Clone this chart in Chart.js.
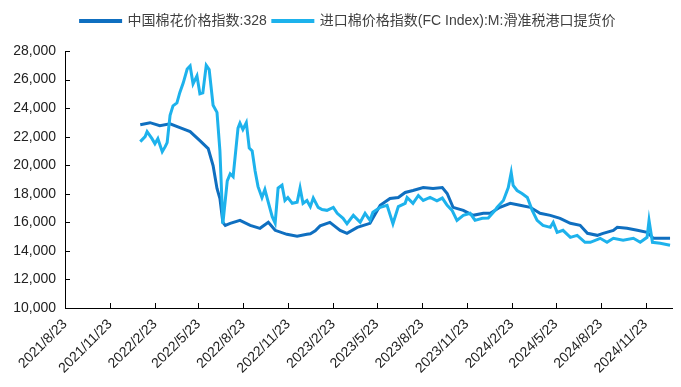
<!DOCTYPE html>
<html>
<head>
<meta charset="utf-8">
<script src="https://cdn.jsdelivr.net/npm/chart.js@4.4.1/dist/chart.umd.min.js"></script>
<style>
  html, body { margin: 0; padding: 0; background: #fff; }
</style>
</head>
<body>
<canvas id="grafico" width="681" height="387"></canvas>
<script>
// rótulos do eixo x (a cada 3 meses)
const tickLabels = ['2021/8/23', '2021/11/23', '2022/2/23', '2022/5/23', '2022/8/23', '2022/11/23', '2023/2/23',
  '2023/5/23', '2023/8/23', '2023/11/23', '2024/2/23', '2024/5/23', '2024/8/23', '2024/11/23'];
const yTicks = [10000, 12000, 14000, 16000, 18000, 20000, 22000, 24000, 26000, 28000];

// 中国棉花价格指数:328
const darkDates = ['2022-01-24', '2022-02-13', '2022-03-05', '2022-03-26', '2022-04-15', '2022-05-06', '2022-05-26',
  '2022-06-12', '2022-06-22', '2022-06-30', '2022-07-06', '2022-07-12', '2022-07-17', '2022-07-27', '2022-08-16',
  '2022-09-06', '2022-09-26', '2022-10-13', '2022-10-27', '2022-11-20', '2022-12-11', '2022-12-31', '2023-01-07',
  '2023-01-17', '2023-01-27', '2023-02-16', '2023-03-09', '2023-03-23', '2023-04-13', '2023-05-09', '2023-05-30',
  '2023-06-19', '2023-07-06', '2023-07-20', '2023-08-05', '2023-08-26', '2023-09-15', '2023-10-04', '2023-10-14',
  '2023-10-26', '2023-11-16', '2023-12-06', '2023-12-27', '2024-01-10', '2024-01-30', '2024-02-20', '2024-03-11',
  '2024-04-01', '2024-04-21', '2024-05-12', '2024-06-01', '2024-06-22', '2024-07-12', '2024-07-27', '2024-08-16',
  '2024-08-28', '2024-09-18', '2024-09-26', '2024-10-16', '2024-11-06', '2024-11-26', '2024-12-09', '2024-12-29',
  '2025-01-12'];
const darkValues = [22840, 22980, 22770, 22900, 22630, 22350, 21720,
  21160, 19980, 18370, 17670, 16000, 15790, 15930, 16140,
  15790, 15580, 16000, 15440, 15160, 15020, 15160, 15200,
  15400, 15750, 16000, 15440, 15230, 15650, 15930, 17190,
  17670, 17740, 18090, 18230, 18440, 18370, 18440, 18020,
  17050, 16840, 16490, 16630, 16630, 17050, 17330, 17190,
  17050, 16630, 16490, 16280, 15930, 15790, 15230, 15090,
  15230, 15440, 15650, 15580, 15440, 15300, 14880, 14880,
  14880];

// 进口棉价格指数(FC Index):M:滑准税港口提货价
const lightDates = ['2022-01-24', '2022-02-03', '2022-02-07', '2022-02-17', '2022-02-23', '2022-03-01', '2022-03-10',
  '2022-03-16', '2022-03-20', '2022-03-26', '2022-04-01', '2022-04-09', '2022-04-15', '2022-04-22', '2022-04-30',
  '2022-05-06', '2022-05-12', '2022-05-20', '2022-05-26', '2022-06-01', '2022-06-08', '2022-06-14', '2022-06-22',
  '2022-06-30', '2022-07-06', '2022-07-12', '2022-07-21', '2022-07-27', '2022-08-02', '2022-08-12', '2022-08-16',
  '2022-08-22', '2022-08-29', '2022-09-04', '2022-09-10', '2022-09-16', '2022-09-22', '2022-09-30', '2022-10-06',
  '2022-10-13', '2022-10-21', '2022-10-27', '2022-11-02', '2022-11-10', '2022-11-16', '2022-11-22', '2022-12-01',
  '2022-12-11', '2022-12-17', '2022-12-23', '2022-12-31', '2023-01-07', '2023-01-13', '2023-01-23', '2023-01-31',
  '2023-02-10', '2023-02-23', '2023-03-03', '2023-03-15', '2023-03-23', '2023-04-05', '2023-04-19', '2023-04-29',
  '2023-05-09', '2023-05-15', '2023-05-30', '2023-06-13', '2023-06-25', '2023-07-06', '2023-07-20', '2023-07-24',
  '2023-08-05', '2023-08-16', '2023-08-26', '2023-09-09', '2023-09-23', '2023-10-04', '2023-10-14', '2023-10-24',
  '2023-11-03', '2023-11-16', '2023-11-30', '2023-12-10', '2023-12-25', '2024-01-06', '2024-01-20', '2024-01-24',
  '2024-02-06', '2024-02-16', '2024-02-22', '2024-02-26', '2024-03-05', '2024-03-15', '2024-03-26', '2024-04-05',
  '2024-04-15', '2024-04-27', '2024-05-12', '2024-05-18', '2024-05-26', '2024-06-07', '2024-06-22', '2024-07-06',
  '2024-07-22', '2024-08-02', '2024-08-22', '2024-09-05', '2024-09-18', '2024-10-08', '2024-10-29', '2024-11-12',
  '2024-11-26', '2024-11-30', '2024-12-07', '2024-12-23', '2025-01-12'];
const lightValues = [21650, 22000, 22350, 21860, 21510, 21860, 20950,
  21300, 21580, 23500, 24160, 24370, 25100, 25770, 26740,
  26950, 25700, 26260, 25000, 25070, 27000, 26700, 24200,
  23700, 21000, 15900, 18900, 19400, 19200, 22600, 22950,
  22500, 22980, 21200, 21000, 19600, 18500, 17740, 18300,
  17400, 16400, 15950, 18400, 18600, 17530, 17740, 17330,
  17400, 18400, 17330, 17530, 17100, 17700, 17050, 16900,
  16840, 17050, 16630, 16280, 15900, 16490, 16000, 16630,
  16140, 16700, 17050, 17190, 15900, 17100, 17330, 17740,
  17330, 17880, 17530, 17740, 17500, 17700, 17190, 16840,
  16140, 16490, 16630, 16140, 16280, 16300, 16840, 17050,
  17530, 18440, 19490, 18580, 18230, 18020, 17740, 16840,
  16140, 15790, 15650, 16000, 15300, 15440, 14950, 15090,
  14600, 14600, 14880, 14600, 14880, 14740, 14880, 14600,
  14950, 16140, 14600, 14530, 14390];

function toTime(s) {
  const p = s.split(/[-\/]/).map(Number);
  return Date.UTC(p[0], p[1] - 1, p[2]);
}

const fonte = "'Liberation Sans', 'Noto Sans CJK SC', Arial, sans-serif";

// marcas dos eixos para dentro da área do gráfico
const marcasInternas = {
  id: 'marcasInternas',
  afterDraw(chart) {
    const { ctx, chartArea, scales } = chart;
    ctx.save();
    ctx.strokeStyle = '#000';
    ctx.lineWidth = 1;
    scales.y.ticks.forEach(t => {
      const y = Math.round(scales.y.getPixelForValue(t.value)) + 0.5;
      ctx.beginPath();
      ctx.moveTo(chartArea.left, y);
      ctx.lineTo(chartArea.left + 5, y);
      ctx.stroke();
    });
    scales.x.ticks.forEach(t => {
      const x = Math.round(scales.x.getPixelForValue(t.value)) + 0.5;
      ctx.beginPath();
      ctx.moveTo(x, chartArea.bottom);
      ctx.lineTo(x, chartArea.bottom - 5);
      ctx.stroke();
    });
    ctx.restore();
  }
};

// espaço extra abaixo da legenda e deslocamento para a direita
const ajusteLegenda = {
  id: 'ajusteLegenda',
  beforeLayout(chart) {
    const leg = chart.legend;
    if (leg && !leg._ajustada) {
      const fit = leg.fit;
      leg.fit = function () { fit.call(this); this.height += 13; };
      leg._ajustada = true;
    }
  },
  afterLayout(chart) {
    const leg = chart.legend;
    if (leg) {
      leg.left += 12;
      leg.right += 12;
    }
  }
};

const config = {
  type: 'line',
  data: {
    datasets: [{
      label: '中国棉花价格指数:328',
      data: darkDates.map((d, i) => ({ x: toTime(d), y: darkValues[i] })),
      borderColor: '#0F6FC0',
      backgroundColor: '#0F6FC0',
      borderWidth: 3,
      pointRadius: 0,
      order: 1
    }, {
      label: '进口棉价格指数(FC Index):M:滑准税港口提货价',
      data: lightDates.map((d, i) => ({ x: toTime(d), y: lightValues[i] })),
      borderColor: '#1DB2EC',
      backgroundColor: '#1DB2EC',
      borderWidth: 3,
      pointRadius: 0,
      order: 0
    }]
  },
  options: {
    responsive: false,
    animation: false,
    devicePixelRatio: 1,
    layout: { padding: { top: 8, right: 9, left: 0, bottom: 0 } },
    plugins: {
      tooltip: { enabled: false },
      legend: {
        position: 'top',
        labels: {
          boxWidth: 40,
          boxHeight: 1,
          padding: 6,
          color: '#404040',
          font: { family: fonte, size: 14 },
          sort: (a, b) => a.datasetIndex - b.datasetIndex
        }
      }
    },
    scales: {
      x: {
        type: 'linear',
        min: toTime('2021-08-23'),
        max: toTime('2025-01-16'),
        afterBuildTicks: scale => {
          scale.ticks = tickLabels.map(l => ({ value: toTime(l) }));
        },
        afterFit: scale => { scale.height = 79; },
        grid: { display: false, drawTicks: false },
        border: { display: true, color: '#000', width: 1 },
        ticks: {
          autoSkip: false,
          minRotation: 45,
          maxRotation: 45,
          padding: 8,
          color: '#222',
          font: { family: fonte, size: 14 },
          callback: (v) => {
            const d = new Date(v);
            return d.getUTCFullYear() + '/' + (d.getUTCMonth() + 1) + '/' + d.getUTCDate();
          }
        }
      },
      y: {
        min: 10000,
        max: 28000,
        afterBuildTicks: scale => {
          scale.ticks = yTicks.map(v => ({ value: v }));
        },
        afterFit: scale => { scale.width = 65; },
        grid: { display: false, drawTicks: false },
        border: { display: true, color: '#000', width: 1 },
        ticks: {
          padding: 9,
          color: '#222',
          font: { family: fonte, size: 14 },
          callback: v => v.toLocaleString('en-US')
        }
      }
    }
  },
  plugins: [marcasInternas, ajusteLegenda]
};

const grafico = new Chart(document.getElementById('grafico'), config);
</script>
</body>
</html>
